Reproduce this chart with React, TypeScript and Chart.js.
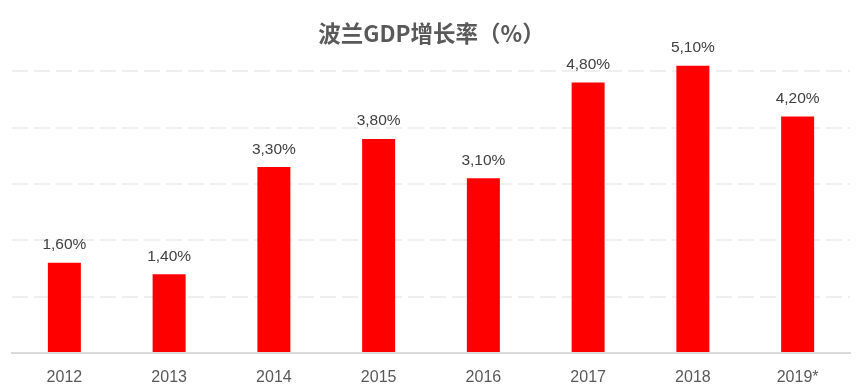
import React, { useEffect, useRef } from "react";
import { Chart, registerables } from "chart.js";

Chart.register(...registerables);

const categories = ["2012", "2013", "2014", "2015", "2016", "2017", "2018", "2019*"];
const growth = [1.6, 1.4, 3.3, 3.8, 3.1, 4.8, 5.1, 4.2];
const titleText = "波兰GDP增长率（%）";

const labelFont = "'Liberation Sans', 'DejaVu Sans', sans-serif";

const overlayPlugin = {
  id: "overlay",
  afterDatasetsDraw(chart: any) {
    const ctx = chart.ctx;
    const meta = chart.getDatasetMeta(0);
    ctx.save();
    ctx.fillStyle = "#404040";
    ctx.font = `15.5px ${labelFont}`;
    ctx.textAlign = "center";
    ctx.textBaseline = "bottom";
    meta.data.forEach((bar: any, i: number) => {
      const v = growth[i];
      const txt = v.toFixed(2).replace(".", ",") + "%";
      ctx.fillText(txt, bar.x, bar.y - 10);
    });
    ctx.fillStyle = "#595959";
    ctx.font = `bold 22.5px 'Noto Sans CJK SC', sans-serif`;
    ctx.textBaseline = "middle";
    ctx.fillText(titleText, (chart.chartArea.left + chart.chartArea.right) / 2 + 0.5, 33);
    ctx.restore();
  },
};

export default function App() {
  const ref = useRef<HTMLCanvasElement>(null);
  useEffect(() => {
    document.body.style.margin = "0";
    const chart = new Chart(ref.current!, {
      type: "bar",
      data: {
        labels: categories,
        datasets: [
          {
            data: growth,
            backgroundColor: "#ff0000",
            barPercentage: 0.315,
            categoryPercentage: 1,
          },
        ],
      },
      options: {
        animation: false,
        responsive: false,
        layout: { padding: { left: 12, right: 12, top: 15, bottom: 0 } },
        plugins: { legend: { display: false }, tooltip: { enabled: false }, title: { display: false } },
        scales: {
          x: {
            grid: { display: false, drawTicks: false },
            border: { display: true, color: "#d9d9d9", width: 2 },
            ticks: { color: "#595959", font: { size: 16, family: labelFont }, padding: 15 },
            afterFit(scale: any) {
              scale.height = 35;
            },
          },
          y: {
            display: true,
            min: 0,
            max: 6,
            ticks: { display: false, stepSize: 1 },
            border: { display: false, dash: [16, 6] },
            grid: {
              drawTicks: false,
              lineWidth: 2,
              color: (c: any) => (c.tick && (c.tick.value === 0 || c.tick.value === 6) ? "rgba(0,0,0,0)" : "#efefef"),
            },
            afterFit(scale: any) {
              scale.width = 0;
            },
          },
        },
      },
      plugins: [overlayPlugin],
    });
    return () => chart.destroy();
  }, []);
  return (
    <div style={{ width: 862, height: 388, background: "#fff" }}>
      <canvas ref={ref} width={862} height={388} style={{ display: "block" }} />
    </div>
  );
}
